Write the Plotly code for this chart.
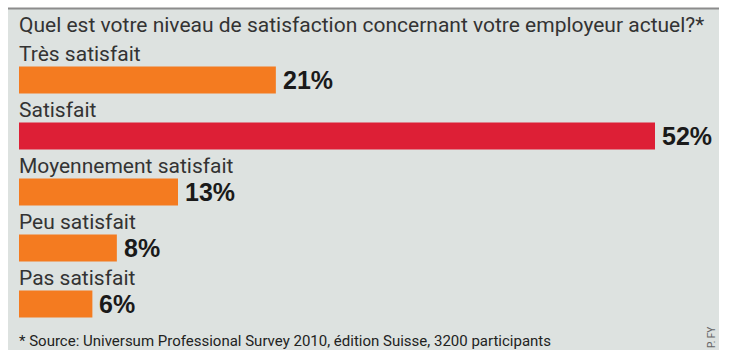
import plotly.graph_objects as go

categories = ["Très satisfait", "Satisfait", "Moyennement satisfait", "Peu satisfait", "Pas satisfait"]
values = [21, 52, 13, 8, 6]
value_labels = ["21%", "52%", "13%", "8%", "6%"]
bar_colors = ["#f47b20", "#dd1f36", "#f47b20", "#f47b20", "#f47b20"]
title_text = "Quel est votre niveau de satisfaction concernant votre employeur actuel?*"
source_text = "* Source: Universum Professional Survey 2010, édition Suisse, 3200 participants"
credit_text = "P. FY"

W, H = 737, 350
ML, MR, MT, MB = 19, 18, 52, 18
PW, PH = W - ML - MR, H - MT - MB

def px_x(p):
    return (p - ML) / PW

def px_y(p):
    return (H - MB - p) / PH

ypos = list(range(len(categories)))

fig = go.Figure()
fig.add_trace(go.Bar(
    x=values, y=ypos, orientation="h",
    marker=dict(color=bar_colors, line=dict(width=0)),
    width=0.48, hoverinfo="skip",
))

NARROW = "Roboto, sans-serif"
BOLD = "Liberation Sans, Arial, sans-serif"

ann = []
for i, (c, v, t) in enumerate(zip(categories, values, value_labels)):
    ann.append(dict(x=0, y=i, xref="x", yref="y", text=c, showarrow=False,
                    xanchor="left", yanchor="bottom", yshift=12, xshift=-2,
                    font=dict(family=NARROW, size=21, color="#333333")))
    ann.append(dict(x=v, y=i, xref="x", yref="y", text="<b>" + t + "</b>", showarrow=False,
                    xanchor="left", yanchor="middle", xshift=5, yshift=0,
                    font=dict(family=BOLD, size=25, color="#1a1a1a")))

ann.append(dict(x=px_x(17), y=px_y(25), xref="paper", yref="paper", text=title_text,
                showarrow=False, xanchor="left", yanchor="middle",
                font=dict(family=NARROW, size=21, color="#333333")))
ann.append(dict(x=px_x(17), y=px_y(341), xref="paper", yref="paper", text=source_text,
                showarrow=False, xanchor="left", yanchor="middle",
                font=dict(family=NARROW, size=15, color="#222222")))
ann.append(dict(x=px_x(711), y=px_y(338), xref="paper", yref="paper", text=credit_text,
                showarrow=False, xanchor="center", yanchor="middle", textangle=-90,
                font=dict(family=NARROW, size=10, color="#666666")))

shapes = [
    dict(type="rect", xref="paper", yref="paper", x0=px_x(8), x1=px_x(719),
         y0=px_y(9), y1=px_y(352), fillcolor="#dde2e0", line=dict(width=0), layer="below"),
    dict(type="line", xref="paper", yref="paper", x0=px_x(8), x1=px_x(719),
         y0=px_y(8.5), y1=px_y(8.5), line=dict(color="#8c8c8c", width=2)),
]

fig.update_layout(
    width=W, height=H,
    margin=dict(l=ML, r=MR, t=MT, b=MB, pad=0),
    paper_bgcolor="white", plot_bgcolor="rgba(0,0,0,0)",
    showlegend=False,
    xaxis=dict(range=[0, 52 * PW / 636], visible=False, fixedrange=True),
    yaxis=dict(range=[len(categories) - 0.5, -0.5], visible=False, fixedrange=True),
    annotations=ann, shapes=shapes,
)

fig.write_html("out.html")
